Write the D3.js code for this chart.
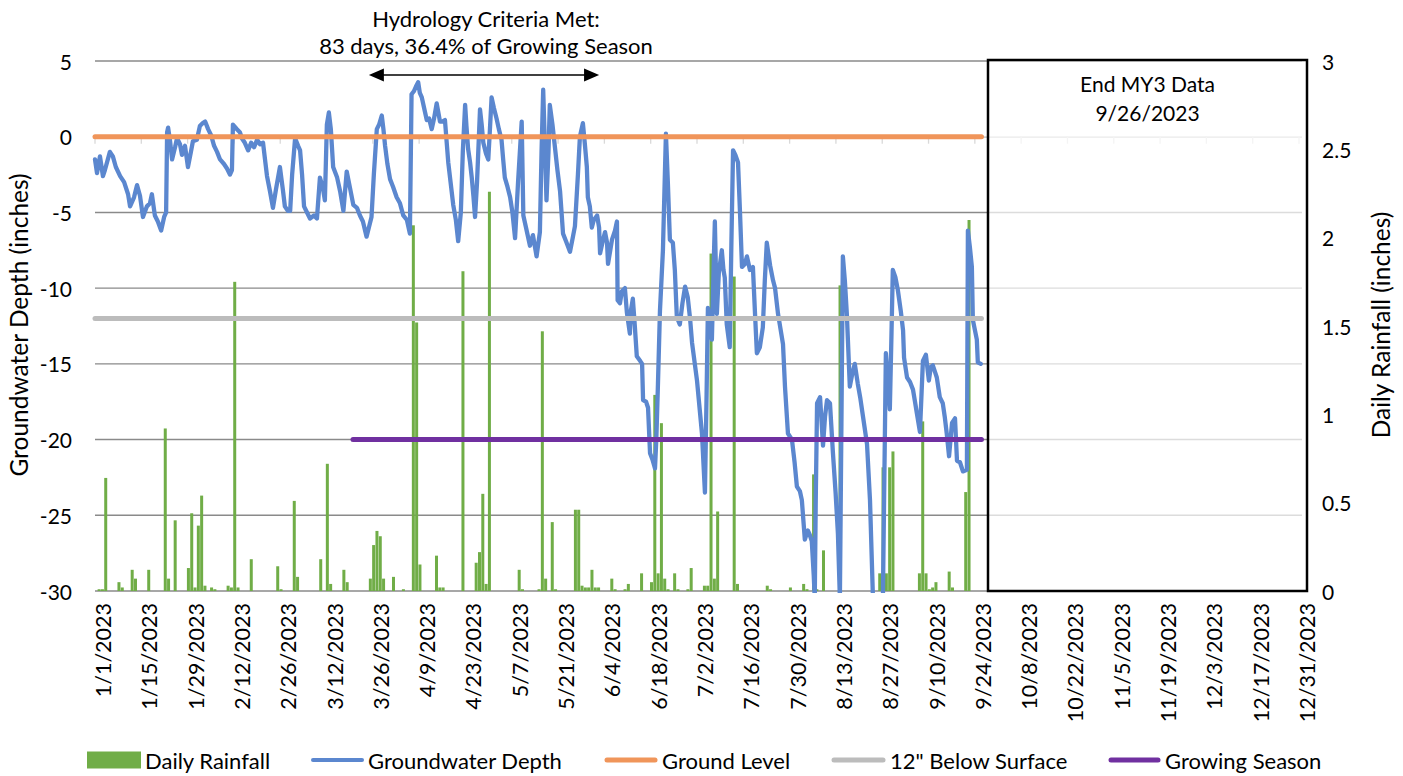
<!DOCTYPE html>
<html><head><meta charset="utf-8">
<script src="https://cdn.jsdelivr.net/npm/d3@7"></script>
<style>
body{margin:0;background:#fff;}
text{font-family:Lato,"Open Sans",sans-serif;fill:#000;}
</style></head>
<body><svg id="chart" width="1403" height="776"></svg>
<script>
// ---------------- DATA ----------------
const tickLabels = ["1/1/2023","1/15/2023","1/29/2023","2/12/2023","2/26/2023","3/12/2023","3/26/2023","4/9/2023","4/23/2023","5/7/2023","5/21/2023","6/4/2023","6/18/2023","7/2/2023","7/16/2023","7/30/2023","8/13/2023","8/27/2023","9/10/2023","9/24/2023","10/8/2023","10/22/2023","11/5/2023","11/19/2023","12/3/2023","12/17/2023","12/31/2023"];
const leftTicks = [-30,-25,-20,-15,-10,-5,0,5];
const rightTicks = [0,0.5,1,1.5,2,2.5,3];

// daily rainfall: day offset from 1/1/2023, inches
const rainDay = [1,2,3,7,8,11,12,16,21,22,24,28,29,30,31,32,33,35,36,40,41,42,43,47,55,56,60,61,68,70,71,75,76,83,84,85,86,87,90,93,96,97,98,103,104,105,111,115,116,117,118,119,128,129,134,135,136,138,139,145,146,147,148,149,150,151,152,156,157,160,161,165,168,169,170,171,172,173,175,176,179,180,184,185,186,187,188,193,194,203,204,210,214,215,217,218,220,225,237,238,239,240,241,249,250,251,252,253,254,258,259,263,264];
const rainInches = [0.01,0.01,0.64,0.05,0.02,0.12,0.07,0.12,0.92,0.07,0.40,0.13,0.44,0.02,0.37,0.54,0.03,0.02,0.01,0.03,0.02,1.75,0.02,0.18,0.14,0.01,0.51,0.08,0.18,0.72,0.04,0.12,0.05,0.07,0.26,0.34,0.31,0.07,0.08,0.01,2.07,1.52,0.15,0.20,0.02,0.02,1.81,0.16,0.22,0.55,0.04,2.26,0.12,0.01,0.01,1.47,0.07,0.39,0.01,0.46,0.46,0.03,0.02,0.02,0.12,0.02,0.02,0.07,0.01,0.01,0.04,0.10,0.05,1.11,0.10,0.95,0.07,0.01,0.10,0.01,0.01,0.13,0.03,0.03,1.91,0.07,0.45,1.78,0.04,0.03,0.01,0.02,0.04,0.01,0.66,0.01,0.23,1.73,0.10,0.70,0.10,0.70,0.79,0.10,0.96,0.10,0.01,0.02,0.05,0.11,0.02,0.56,2.10];

// groundwater depth readings: day offset from 1/1/2023, inches
const gwDay = [0,0.6,1.5,2.4,3.0,4.5,5.4,6.3,7.6,8.8,10.0,10.6,11.8,12.7,13.6,14.5,15.7,16.6,17.2,18.1,19.0,20.0,20.9,21.5,21.8,22.1,22.7,23.3,24.2,24.8,25.7,26.3,27.2,28.1,29.0,29.6,30.8,31.7,32.6,33.3,34.2,35.1,36.0,36.9,37.8,39.0,39.9,40.8,41.4,41.7,42.9,43.8,44.4,45.3,46.3,47.2,48.1,49.0,49.9,50.8,51.4,52.0,52.9,53.8,54.7,55.9,56.8,57.4,58.3,59.0,59.6,60.5,61.4,62.0,62.6,63.2,64.1,65.0,66.2,67.1,68.0,68.9,69.5,70.1,70.7,71.3,72.0,73.2,74.1,75.1,76.1,77.1,78.1,79.2,80.1,81.0,82.1,82.8,83.6,84.3,85.2,85.9,86.7,87.2,87.7,88.4,89.2,90.1,91.2,92.2,93.2,94.3,95.2,95.7,96.4,97.0,97.7,98.2,98.8,99.5,100.3,101.0,101.8,102.5,103.3,103.8,104.3,105.0,105.8,106.8,107.5,108.3,109.1,109.8,110.6,111.2,111.9,112.3,112.8,113.4,113.9,114.4,114.9,115.5,116.4,116.9,117.4,118.2,118.9,119.4,119.9,120.6,121.4,122.1,122.9,123.4,123.9,124.7,125.5,126.2,127.0,127.9,129.0,129.5,130.3,131.5,132.4,133.5,134.5,135.0,135.5,136.0,136.5,137.1,137.5,138.3,139.1,139.8,140.6,141.5,142.4,143.6,144.5,145.1,146.0,146.6,147.5,148.1,148.7,149.0,149.6,150.2,150.8,151.8,152.4,152.7,153.6,154.2,154.8,155.1,155.7,156.3,157.2,157.8,158.0,158.7,159.3,160.2,160.8,161.7,162.0,162.6,163.2,163.8,164.8,165.4,165.7,166.6,167.2,167.8,168.5,169.3,169.7,170.2,170.8,171.7,172.6,173.2,173.8,174.7,175.3,175.9,176.8,177.6,178.4,179.2,179.9,180.5,182.0,183.5,184.4,184.9,185.3,185.9,186.5,187.1,187.4,188.0,188.6,189.5,190.0,190.4,191.0,191.9,192.4,192.9,193.6,194.4,195.0,195.6,196.5,197.1,198.0,198.9,199.5,200.1,201.0,201.9,202.5,203.1,204.1,205.0,205.6,206.5,207.1,208.0,208.6,209.5,210.7,211.5,212.2,213.1,213.7,214.6,215.5,216.1,216.7,217.3,217.6,217.9,218.3,219.2,220.1,220.7,221.3,222.2,223.1,223.9,224.6,225.2,225.7,226.1,226.7,227.3,228.2,229.0,229.7,230.6,231.4,232.2,233.4,234.3,235.2,238.2,239.1,239.7,240.3,240.8,241.2,242.0,242.7,243.6,244.3,244.6,245.5,246.4,247.3,247.9,248.5,249.4,250.3,251.2,252.1,252.7,253.3,253.9,254.5,255.4,256.3,256.9,257.5,258.2,259.1,260.0,260.6,261.5,262.4,263.6,263.9,264.5,265.1,265.4,266.6,266.9,267.8];
const gwDepth = [-1.5,-2.4,-1.3,-2.6,-2.2,-1.0,-1.3,-2.0,-2.6,-3.0,-3.8,-4.6,-4.0,-3.2,-3.9,-5.3,-4.6,-4.4,-3.8,-5.2,-5.6,-6.2,-5.3,-5.0,0.3,0.6,-0.3,-1.5,-0.7,-0.1,-0.5,-1.2,-0.6,-2.0,-1.0,-0.3,-0.2,0.7,0.9,1.0,0.5,0.1,-0.6,-1.0,-1.5,-1.8,-2.1,-2.5,-2.2,0.8,0.5,0.3,-0.1,-0.4,-0.9,-0.4,-0.7,-0.2,-0.5,-0.4,-1.5,-2.6,-3.6,-4.7,-3.5,-2.0,-3.5,-4.6,-4.9,-4.9,-2.5,-0.1,-0.6,-0.9,-2.5,-4.6,-5.0,-5.4,-5.2,-5.4,-2.7,-3.4,-4.2,0.8,1.6,0.5,-2.0,-2.7,-3.6,-4.9,-2.3,-3.4,-4.5,-4.7,-5.2,-5.6,-6.6,-6.0,-5.3,-2.5,0.5,0.8,1.4,0.5,-0.6,-1.8,-2.8,-3.3,-4.0,-4.4,-5.2,-5.5,-6.4,2.8,3.0,3.3,3.6,2.9,2.6,1.9,1.1,1.2,0.5,1.2,2.2,1.6,1.0,1.0,1.1,-1.7,-3.0,-4.5,-5.5,-6.9,-5.0,-1.0,2.1,0.7,-0.8,-1.7,-2.7,-3.9,-5.3,-3.0,1.8,0.8,-0.4,-1.1,-1.5,0.5,2.6,1.9,1.2,0.5,-0.2,-1.5,-2.7,-3.3,-4.0,-5.0,-6.7,-3.0,1.0,-5.2,-6.0,-7.2,-6.5,-7.9,-6.3,-1.0,3.1,-0.5,-4.2,-1.0,2.1,0.8,-0.8,-2.2,-3.6,-6.4,-6.9,-7.6,-6.6,-5.9,-2.5,0.0,0.9,-0.5,-2.0,-4.0,-4.6,-6.0,-5.5,-5.2,-6.0,-7.7,-6.8,-6.3,-7.0,-8.4,-7.6,-6.8,-6.2,-5.6,-10.8,-11.0,-10.2,-10.0,-11.6,-13.0,-11.5,-10.7,-12.5,-14.5,-14.8,-15.0,-17.4,-17.5,-17.9,-20.9,-21.3,-21.9,-20.0,-16.3,-11.5,-7.5,0.2,-3.1,-6.8,-7.0,-8.8,-11.9,-12.4,-11.0,-9.9,-10.6,-12.0,-13.6,-16.1,-19.6,-23.5,-17.0,-11.3,-12.0,-13.4,-8.0,-5.6,-11.7,-9.0,-7.5,-8.8,-9.3,-12.4,-13.9,-7.0,-0.9,-1.2,-1.7,-5.0,-8.6,-8.4,-7.9,-8.8,-8.6,-11.5,-14.3,-13.9,-12.6,-9.5,-7.0,-8.5,-9.5,-10.0,-11.7,-12.5,-13.7,-16.5,-19.6,-20.0,-21.5,-23.1,-23.4,-24.0,-26.6,-26.0,-26.3,-26.7,-29.0,-30.5,-24.0,-17.6,-17.2,-20.4,-18.5,-17.4,-17.6,-20.9,-23.5,-26.2,-30.5,-18.0,-7.9,-9.5,-11.7,-16.5,-15.6,-15.0,-16.3,-17.3,-18.5,-20.3,-24.0,-30.5,-30.5,-14.3,-16.0,-18.0,-13.0,-8.8,-9.3,-10.1,-11.5,-12.8,-14.6,-15.9,-16.2,-16.7,-17.5,-18.3,-19.5,-14.8,-14.4,-16.1,-15.2,-15.1,-15.5,-15.9,-17.2,-17.6,-18.5,-19.6,-21.1,-18.9,-18.6,-21.4,-21.5,-22.1,-22.0,-6.2,-7.3,-8.6,-12.1,-13.4,-14.9,-15.0];

const groundLevel = 0;       // inches
const belowSurface = -12;    // inches
const growingLevel = -20;    // line drawn at -20
const firstDate = "1/1/2023", lastDate = "12/31/2023";
const dataEndDate = "9/26/2023";
const growingStart = "3/20/2023";
const criteriaStartDay = 82.8, criteriaEndDay = 152.4;
const legendNames = ["Daily Rainfall","Groundwater Depth","Ground Level","12\" Below Surface","Growing Season"];

// ---------------- CHART ----------------
const parse = d3.timeParse("%m/%d/%Y");
const base = parse(firstDate);
const dayDate = d => new Date(base.getTime() + d * 864e5);

const svg = d3.select("#chart");
const L = 95, R = 1302, T = 61, B = 591;
const x = d3.scaleTime().domain([base, parse(lastDate)]).range([95, 1299]);
const yL = d3.scaleLinear().domain([-30, 5]).range([B, T]);
const yR = d3.scaleLinear().domain([0, 3]).range([B, T]);

const C = {green:"#70ad47", blue:"#5b87cf", orange:"#f0955a", gray:"#bcbcbc", purple:"#7030a0", grid:"#8a8a8a"};

// gridlines
svg.append("g").selectAll("line").data(leftTicks).join("line")
  .attr("x1", L).attr("x2", R).attr("y1", d => yL(d)).attr("y2", d => yL(d))
  .attr("stroke", C.grid).attr("stroke-width", 1.4);

// horizontal (date) axis at 0 with tick marks
const tickDates = tickLabels.map(parse);
const y0 = yL(0);
svg.append("line").attr("x1", L).attr("x2", R).attr("y1", y0).attr("y2", y0)
  .attr("stroke", "#d9d9d9").attr("stroke-width", 1.3);
svg.append("g").selectAll("line").data(tickDates).join("line")
  .attr("x1", d => x(d)).attr("x2", d => x(d)).attr("y1", y0).attr("y2", y0 + 7)
  .attr("stroke", "#d9d9d9").attr("stroke-width", 1.3);

// tick labels (rotated)
svg.append("g").selectAll("text").data(tickDates).join("text")
  .attr("transform", (d) => `translate(${x(d) + 8},603) rotate(-90)`)
  .attr("text-anchor", "end").attr("dominant-baseline", "central")
  .style("font-size", "21.5px")
  .text((d, i) => tickLabels[i]);

// left axis labels
svg.append("g").selectAll("text").data(leftTicks).join("text")
  .attr("x", 72).attr("y", d => yL(d)).attr("text-anchor", "end")
  .attr("dominant-baseline", "central").style("font-size", "21px").text(d => d);
// right axis labels
svg.append("g").selectAll("text").data(rightTicks).join("text")
  .attr("x", 1322).attr("y", d => yR(d)).attr("text-anchor", "start")
  .attr("dominant-baseline", "central").style("font-size", "21px").text(d => d);

// axis titles
svg.append("text").attr("transform", "translate(18,325) rotate(-90)")
  .attr("text-anchor", "middle").attr("dominant-baseline", "central")
  .style("font-size", "24.5px").text("Groundwater Depth (inches)");
svg.append("text").attr("transform", "translate(1380,325) rotate(-90)")
  .attr("text-anchor", "middle").attr("dominant-baseline", "central")
  .style("font-size", "24.5px").text("Daily Rainfall (inches)");

// rainfall bars
const bw = 3;
svg.append("g").selectAll("rect").data(rainDay).join("rect")
  .attr("x", d => x(dayDate(d)) + 0.8 - bw / 2)
  .attr("width", bw)
  .attr("y", (d, i) => yR(rainInches[i]))
  .attr("height", (d, i) => B - yR(rainInches[i]))
  .attr("fill", C.green);

// clip
svg.append("clipPath").attr("id", "clip").append("rect")
  .attr("x", L - 5).attr("y", 40).attr("width", R - L + 10).attr("height", B - 40 + 2);

// groundwater line
const gwLine = d3.line().x((d, i) => x(dayDate(d))).y((d, i) => yL(gwDepth[i]));
svg.append("path").datum(gwDay).attr("d", gwLine)
  .attr("clip-path", "url(#clip)")
  .attr("fill", "none").attr("stroke", C.blue).attr("stroke-width", 4.3)
  .attr("stroke-linejoin", "round").attr("stroke-linecap", "round");

// reference lines
function hline(startDate, endDate, v, color) {
  svg.append("line").attr("x1", x(startDate)).attr("x2", x(endDate))
    .attr("y1", yL(v)).attr("y2", yL(v))
    .attr("stroke", color).attr("stroke-width", 5).attr("stroke-linecap", "round");
}
hline(base, parse(dataEndDate), groundLevel, C.orange);
hline(base, parse(dataEndDate), belowSurface, C.gray);
hline(parse(growingStart), parse(dataEndDate), growingLevel, C.purple);

// End-of-data box
const bx = 988, bxr = 1307;
svg.append("rect").attr("x", bx).attr("y", 60).attr("width", bxr - bx).attr("height", B - 60)
  .attr("fill", "#fff").attr("fill-opacity", 0.7)
  .attr("stroke", "#000").attr("stroke-width", 2.5);
svg.append("text").attr("x", (bx + bxr) / 2).attr("y", 92).attr("text-anchor", "middle")
  .style("font-size", "21px").text("End MY3 Data");
svg.append("text").attr("x", (bx + bxr) / 2).attr("y", 121).attr("text-anchor", "middle")
  .style("font-size", "21px").text(dataEndDate);

// Hydrology annotation
svg.append("text").attr("x", 486).attr("y", 27).attr("text-anchor", "middle")
  .style("font-size", "22px").text("Hydrology Criteria Met:");
svg.append("text").attr("x", 486).attr("y", 54).attr("text-anchor", "middle")
  .style("font-size", "22px").text("83 days, 36.4% of Growing Season");
const ax1 = x(dayDate(criteriaStartDay)), ax2 = x(dayDate(criteriaEndDay)), ay = 75;
svg.append("line").attr("x1", ax1 + 12).attr("x2", ax2 - 12).attr("y1", ay).attr("y2", ay)
  .attr("stroke", "#000").attr("stroke-width", 1.3);
svg.append("path").attr("d", `M${ax1},${ay} L${ax1 + 15},${ay - 6.5} L${ax1 + 15},${ay + 6.5} Z`).attr("fill", "#000");
svg.append("path").attr("d", `M${ax2},${ay} L${ax2 - 15},${ay - 6.5} L${ax2 - 15},${ay + 6.5} Z`).attr("fill", "#000");

// legend
const ly = 760;
const legendPos = [{x0:87, x1:141, t:145}, {x0:311, x1:364, t:368}, {x0:605, x1:657, t:662}, {x0:832, x1:885, t:890}, {x0:1109, x1:1160, t:1165}];
const legendColors = [C.green, C.blue, C.orange, C.gray, C.purple];
const lg = svg.append("g");
legendNames.forEach((name, i) => {
  const p = legendPos[i];
  if (i === 0) {
    lg.append("rect").attr("x", p.x0).attr("y", ly - 8.5).attr("width", p.x1 - p.x0).attr("height", 17).attr("fill", legendColors[i]);
  } else {
    lg.append("line").attr("x1", p.x0 + 2).attr("x2", p.x1 - 2).attr("y1", ly).attr("y2", ly)
      .attr("stroke", legendColors[i]).attr("stroke-width", i === 1 ? 4 : 5).attr("stroke-linecap", "round");
  }
  lg.append("text").attr("x", p.t).attr("y", ly).attr("dominant-baseline", "central")
    .style("font-size", "22px").text(name);
});
</script>
</body></html>
